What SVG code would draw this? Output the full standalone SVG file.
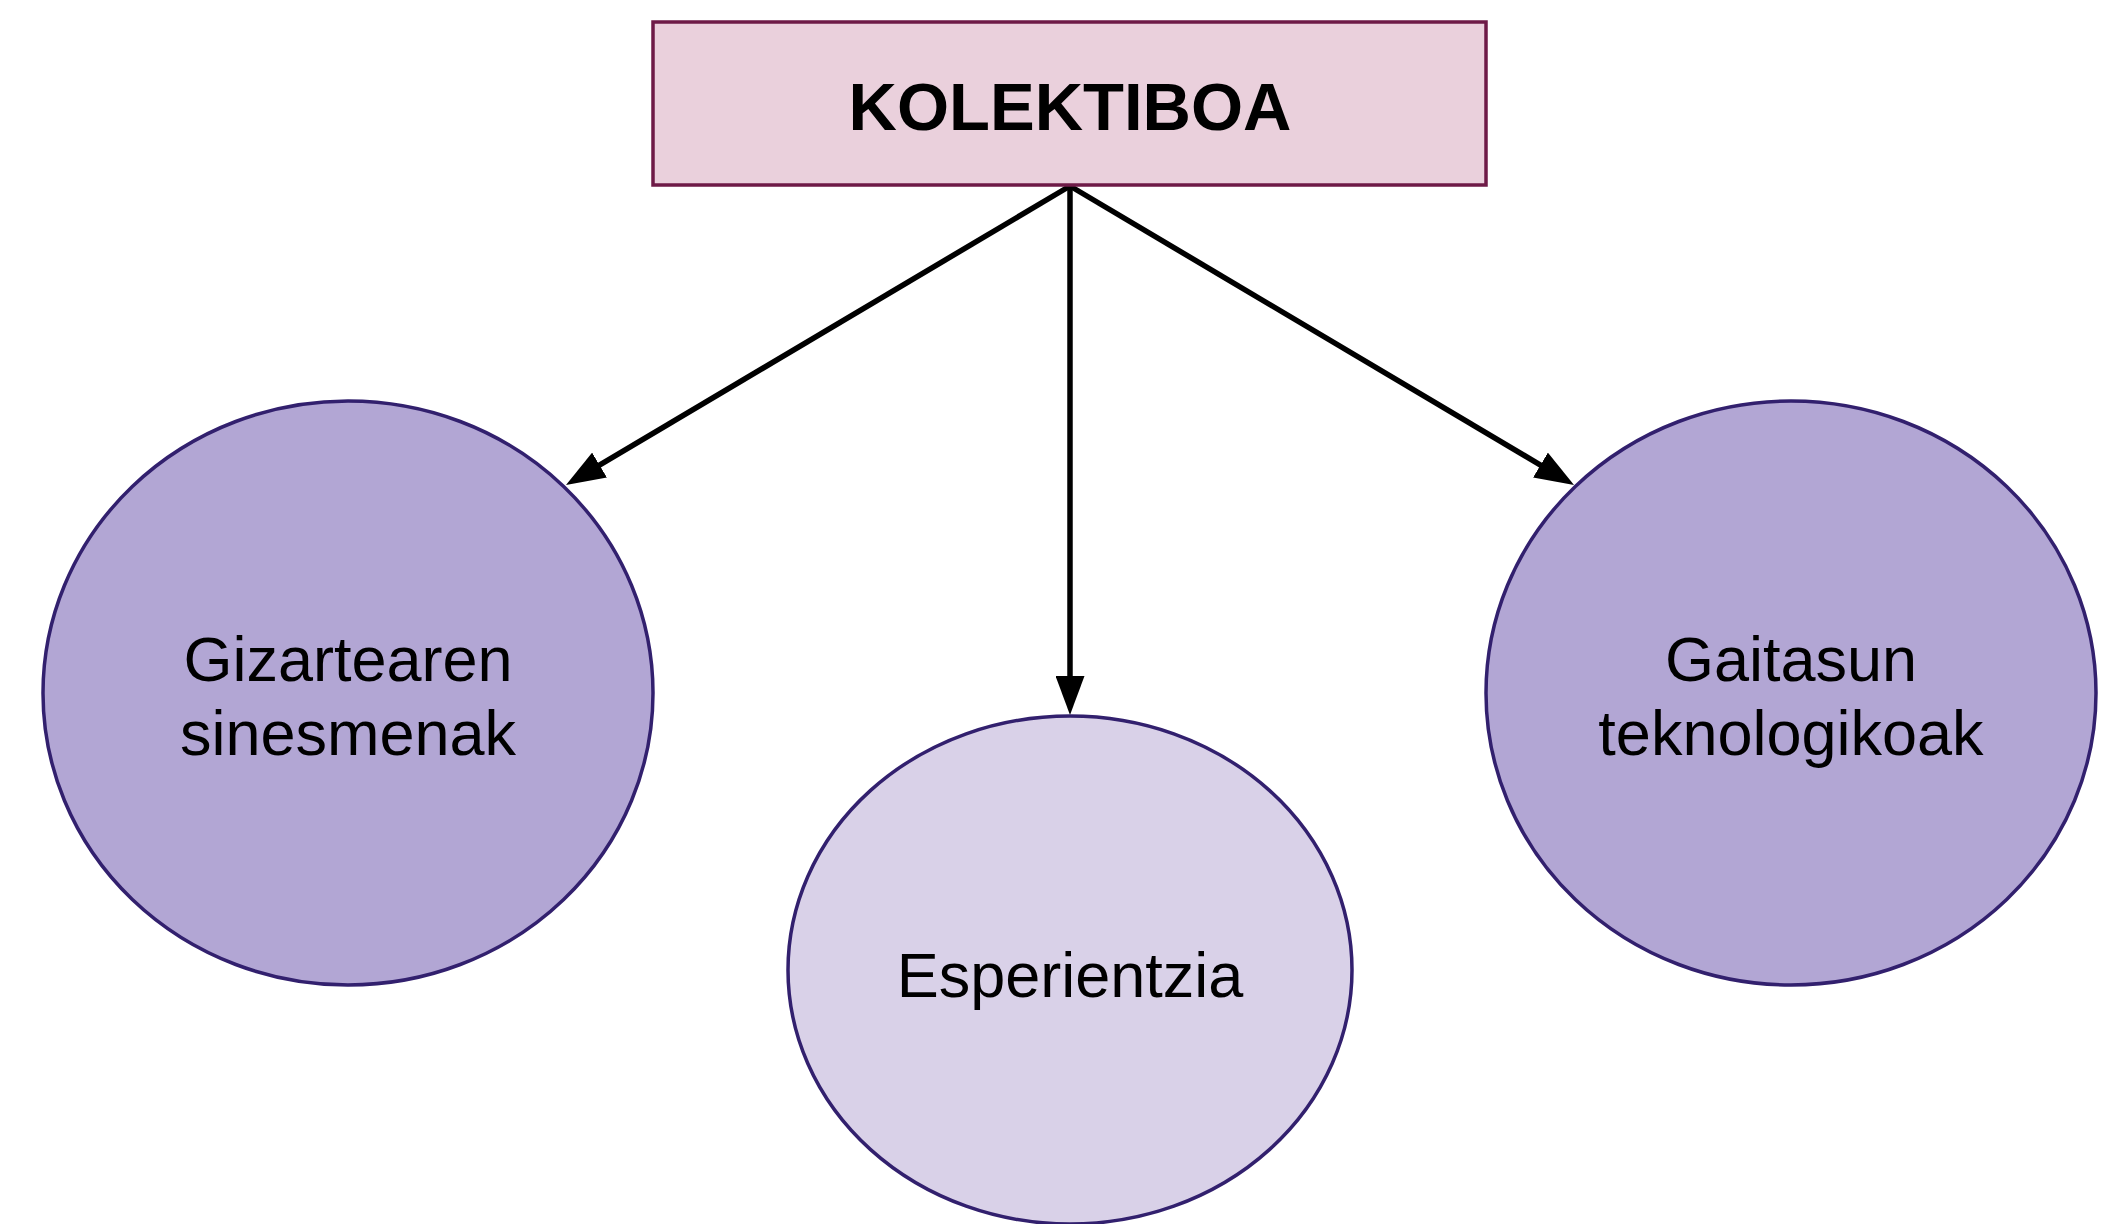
<svg xmlns="http://www.w3.org/2000/svg" width="2115" height="1224" viewBox="0 0 2115 1224">
<style>
.bg{fill:#ffffff}
.root{fill:#ead0dc;stroke:#6e1a47;stroke-width:3.5}
.dark{fill:#b2a6d4;stroke:#32206e;stroke-width:3.5}
.light{fill:#d9d1e8;stroke:#32206e;stroke-width:3.5}
.t{font-family:"Liberation Sans",Arial,sans-serif;font-size:63px;fill:#000;text-anchor:middle}
.tb{font-family:"Liberation Sans",Arial,sans-serif;font-size:67px;font-weight:bold;fill:#000;text-anchor:middle}
.c{stroke:#000;stroke-width:5.5;fill:none;marker-end:url(#arr)}
</style>
<defs>
<marker id="arr" markerUnits="userSpaceOnUse" markerWidth="39" markerHeight="29" refX="2" refY="14.5" orient="auto" viewBox="0 0 39 29">
<path d="M0,0 L39,14.5 L0,29 z" fill="#000"/>
</marker>
</defs>
<rect class="bg" x="0" y="0" width="2115" height="1224"/>
<g id="connectors">
<line class="c" x1="1070" y1="186" x2="597.8" y2="466.1"/>
<line class="c" x1="1070" y1="186" x2="1070" y2="678"/>
<line class="c" x1="1070" y1="186" x2="1542.2" y2="466.1"/>
</g>
<g id="kolektiboa">
<rect class="root" x="653" y="22" width="833" height="163"/>
<text class="tb" x="1070" y="130">KOLEKTIBOA</text>
</g>
<g id="gizartearen">
<ellipse class="dark" cx="348" cy="693" rx="305" ry="292"/>
<text class="t" x="348" y="681">Gizartearen</text>
<text class="t" x="348" y="755">sinesmenak</text>
</g>
<g id="esperientzia">
<ellipse class="light" cx="1070" cy="970" rx="282" ry="254"/>
<text class="t" x="1070" y="997">Esperientzia</text>
</g>
<g id="gaitasun">
<ellipse class="dark" cx="1791" cy="693" rx="305" ry="292"/>
<text class="t" x="1791" y="681">Gaitasun</text>
<text class="t" x="1791" y="755">teknologikoak</text>
</g>
</svg>
